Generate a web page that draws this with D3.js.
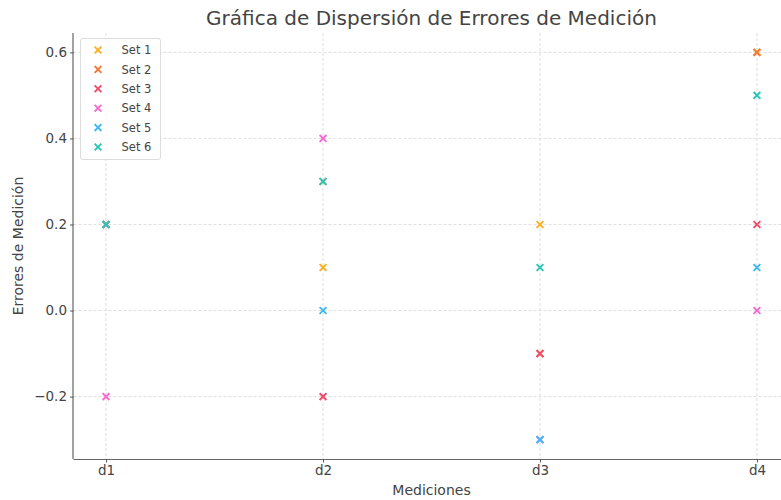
<!DOCTYPE html>
<html>
<head>
<meta charset="utf-8">
<script src="https://cdn.jsdelivr.net/npm/d3@7"></script>
<style>
  body { margin: 0; background: #fff; }
  svg { display: block; font-family: "DejaVu Sans", sans-serif; }
</style>
</head>
<body>
<svg id="chart" width="781" height="500"></svg>
<script>
const categories = ["d1", "d2", "d3", "d4"];
const seriesNames = ["Set 1", "Set 2", "Set 3", "Set 4", "Set 5", "Set 6"];
const set1 = [0.2, 0.1, 0.2, 0.6];
const set2 = [0.2, 0.3, -0.1, 0.6];
const set3 = [0.2, -0.2, -0.1, 0.2];
const set4 = [-0.2, 0.4, -0.3, 0.0];
const set5 = [0.2, 0.0, -0.3, 0.1];
const set6 = [0.2, 0.3, 0.1, 0.5];
const seriesValues = [set1, set2, set3, set4, set5, set6];
const colors = ["#FFAE1F", "#F47A3E", "#F04B6B", "#F56BD0", "#3EB9F4", "#2CC6B6"];
const yTicks = [-0.2, 0.0, 0.2, 0.4, 0.6];

(function () {
const svg = d3.select("#chart");
const mLeft = 73.5, mRight = 789.5, mTop = 33, mBottom = 459;

const x = d3.scalePoint().domain(categories).range([mLeft, mRight]).padding(0.15);
const y = d3.scaleLinear().domain([-0.345, 0.645]).range([mBottom, mTop]);

const gridColor = "#d6d6d6";
svg.append("g").selectAll("line").data(yTicks).join("line")
  .attr("x1", mLeft).attr("x2", mRight)
  .attr("y1", d => y(d)).attr("y2", d => y(d))
  .attr("stroke", gridColor).attr("stroke-width", 0.8).attr("stroke-dasharray", "3,2");
svg.append("g").selectAll("line").data(categories).join("line")
  .attr("x1", d => x(d)).attr("x2", d => x(d))
  .attr("y1", mTop).attr("y2", mBottom)
  .attr("stroke", gridColor).attr("stroke-width", 0.8).attr("stroke-dasharray", "3,2");

const xAxis = svg.append("g").attr("transform", `translate(0,${mBottom})`)
  .call(d3.axisBottom(x).tickSize(3.5).tickPadding(2.5));
const yAxis = svg.append("g").attr("transform", `translate(${mLeft},0)`)
  .call(d3.axisLeft(y).tickValues(yTicks).tickSize(3.5).tickPadding(3)
    .tickFormat(d => d3.format(".1f")(d).replace("-", "\u2212")));
xAxis.select(".domain").attr("d", `M${mLeft},0.5H${mRight}`);
yAxis.select(".domain").attr("d", `M-0.5,${mTop}V${mBottom}`);
[xAxis, yAxis].forEach(a => {
  a.select(".domain").attr("stroke", "#666").attr("stroke-width", 1.2);
  a.selectAll(".tick line").attr("stroke", "#555");
  a.selectAll(".tick text").attr("fill", "#444").attr("font-size", 13.5)
    .attr("font-family", "DejaVu Sans, sans-serif");
});

const xm = 3.4;
const markPath = `M${-xm},${-xm}L${xm},${xm}M${-xm},${xm}L${xm},${-xm}`;
seriesValues.forEach((vals, si) => {
  svg.append("g").selectAll("path").data(vals.map((v, i) => ({c: categories[i], v})))
    .join("path")
    .attr("transform", d => `translate(${x(d.c)},${y(d.v)})`)
    .attr("d", markPath)
    .attr("stroke", colors[si]).attr("stroke-width", 1.9).attr("fill", "none");
});

svg.append("text").attr("x", (mLeft + mRight) / 2).attr("y", 25)
  .attr("text-anchor", "middle").attr("font-size", 20).attr("fill", "#444")
  .text("Gráfica de Dispersión de Errores de Medición");
svg.append("text").attr("x", (mLeft + mRight) / 2).attr("y", 494.5)
  .attr("text-anchor", "middle").attr("font-size", 14).attr("fill", "#444")
  .text("Mediciones");
svg.append("text").attr("transform", `translate(22.5,${(mTop + mBottom) / 2}) rotate(-90)`)
  .attr("text-anchor", "middle").attr("font-size", 14).attr("fill", "#444")
  .text("Errores de Medición");

const lg = svg.append("g");
lg.append("rect").attr("x", 80.5).attr("y", 38.5).attr("width", 80).attr("height", 121)
  .attr("rx", 2.5).attr("fill", "#fff").attr("fill-opacity", 0.8)
  .attr("stroke", "#dcdcdc").attr("stroke-width", 1);
seriesNames.forEach((name, i) => {
  const yy = 50 + i * 19.4;
  lg.append("path").attr("transform", `translate(98,${yy})`).attr("d", markPath)
    .attr("stroke", colors[i]).attr("stroke-width", 1.9).attr("fill", "none");
  lg.append("text").attr("x", 121.5).attr("y", yy + 4.2).attr("font-size", 11.5)
    .attr("fill", "#444").text(name);
});
})();
</script>
</body>
</html>
